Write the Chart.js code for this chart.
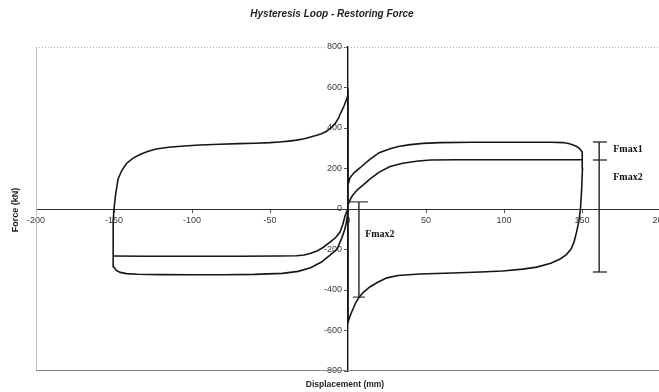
<!DOCTYPE html>
<html>
<head>
<meta charset="utf-8">
<script src="https://cdn.jsdelivr.net/npm/chart.js@4.4.1/dist/chart.umd.min.js"></script>
<style>
  body { margin: 0; background: #fff; overflow: hidden; }
  #wrap { width: 700px; height: 392px; }
</style>
</head>
<body>
<div id="wrap"><canvas id="loopChart" width="700" height="392"></canvas></div>
<script>
// tick values
const dispTicks = [-200, -150, -100, -50, 0, 50, 100, 150, 200]
const forceTicks = [-800, -600, -400, -200, 0, 200, 400, 600, 800]

// outer loop (Fmax1) - lower left, upper left, drop at 0, lower right, upper right
const outerDisp = [
  0, -0.6, -2, -3.8, -7, -11.5, -17, -24, -32, -42, -60, -80, -100, -120, -135, -142, -146, -148.5, -150.2, -150.6, -150.6, -150.4, -150,
  -149, -147.4, -145, -142, -138, -133, -128, -123, -115, -105, -95, -82, -70, -60, -50, -44, -38, -33, -28, -24, -20, -17, -14, -12, -10, -8, -6, -5, -4, -2.5, -1.5, -0.5, 0,
  0, 1.5, 3.2, 5, 7, 10, 14, 19, 25, 32, 46, 67, 85, 99, 112, 121, 130, 136, 140, 143, 145, 146.5, 148, 149, 149.8, 150.3, 150.3, 150, 148.5, 146, 142, 138, 130, 120, 100, 80, 59, 48, 40, 33, 27, 20, 14, 8, 4, 1.3, 0, 0
]
const outerForce = [
  0, -49, -99, -140, -198, -228, -262, -290, -308, -318, -323, -325, -325, -324, -322, -319, -313, -303, -285, -250, -150, -60, 0,
  70, 148, 190, 225, 250, 270, 285, 296, 305, 311, 316, 320, 323, 325, 328, 331, 335, 340, 347, 356, 364, 372, 383, 395, 408, 425, 450, 469, 485, 510, 530, 550, 568,
  -560, -525, -494, -462, -437, -410, -385, -362, -340, -328, -321, -316, -311, -306, -297, -287, -268, -247, -225, -198, -160, -114, -60, 0, 100, 200, 260, 281, 298, 311, 322, 328, 330, 330, 330, 330, 328, 324, 318, 310, 298, 278, 245, 205, 180, 155, 120, 0
]

// inner loop (Fmax2) branches
const innerLowDisp = [0, -1, -1.9, -3.3, -5.1, -8, -11.5, -16, -20, -24.4, -28, -33, -45, -70, -100, -130, -150.6]
const innerLowForce = [0, -15, -35, -75, -114, -142, -163, -190, -208, -220, -227, -231, -232, -233, -233, -233, -232]
const innerUpDisp = [0, 1.3, 3, 6, 9.6, 14, 20, 27, 35, 45, 53, 70, 100, 130, 150.3]
const innerUpForce = [20, 45, 68, 95, 118, 148, 182, 210, 226, 237, 242, 243, 243, 243, 243]

// Fmax marker bars
const barRightDisp = 161
const barRightForce = [331, -311]
const capRightForce = [331, 242, -311]
const capRightSpan = [157, 166]
const barZeroDisp = 7
const barZeroForce = [35, -435]
const capZeroForce = [35, -435]
const capZeroSpans = [[1.3, 12.8], [3.2, 10.9]]

const fmaxLabels = ['Fmax1', 'Fmax2', 'Fmax2']
const fmaxLabelDisp = [170, 170, 11]
const fmaxLabelForce = [292, 158, -124]

const toPoints = (xs, ys) => xs.map((x, i) => ({ x: x, y: ys[i] }))

const capPoints = []
capRightForce.forEach(f => {
  capPoints.push({ x: capRightSpan[0], y: f }, { x: capRightSpan[1], y: f }, { x: capRightSpan[1], y: null })
})
capZeroForce.forEach((f, i) => {
  capPoints.push({ x: capZeroSpans[i][0], y: f }, { x: capZeroSpans[i][1], y: f }, { x: capZeroSpans[i][1], y: null })
})

const curveStyle = { showLine: true, pointRadius: 0, borderColor: '#161616', borderWidth: 1.6, tension: 0, fill: false }
const barStyle = { showLine: true, pointRadius: 0, borderColor: '#222', borderWidth: 1.4, tension: 0, fill: false, spanGaps: false }

// frame + texts
const decor = {
  id: 'decor',
  beforeDraw(chart) {
    // y labels of a centred axis get no padding, push them off the line
    chart.scales.y.getLabelItems().forEach(item => {
      if (!item._shifted) {
        item.options.translation[0] -= 6
        item._shifted = true
      }
    })
  },
  beforeDatasetsDraw(chart) {
    const { ctx, chartArea: a } = chart
    ctx.save()
    ctx.strokeStyle = '#bdbdbd'
    ctx.lineWidth = 1
    ctx.beginPath()
    ctx.moveTo(a.left + 0.5, a.top)
    ctx.lineTo(a.left + 0.5, a.bottom)
    ctx.stroke()
    ctx.strokeStyle = '#8a8a8a'
    ctx.beginPath()
    ctx.moveTo(a.left, a.bottom - 0.5)
    ctx.lineTo(a.right, a.bottom - 0.5)
    ctx.stroke()
    ctx.strokeStyle = '#b0b0b0'
    ctx.setLineDash([1, 2])
    ctx.beginPath()
    ctx.moveTo(a.left, a.top + 0.5)
    ctx.lineTo(a.right, a.top + 0.5)
    ctx.stroke()
    ctx.restore()
  },
  afterDraw(chart) {
    const { ctx } = chart
    const xs = chart.scales.x
    const ys = chart.scales.y
    ctx.save()
    ctx.fillStyle = '#1e1e1e'
    ctx.textAlign = 'center'
    ctx.textBaseline = 'middle'
    ctx.font = 'italic bold 10px "Liberation Sans", Arial, sans-serif'
    ctx.fillText('Hysteresis Loop - Restoring Force', 332, 14)
    ctx.font = 'bold 8.5px "Liberation Sans", Arial, sans-serif'
    ctx.fillText('Displacement (mm)', 345, 385)
    ctx.translate(16, 210)
    ctx.rotate(-Math.PI / 2)
    ctx.font = 'bold 9px "Liberation Sans", Arial, sans-serif'
    ctx.fillText('Force (kN)', 0, 0)
    ctx.restore()

    ctx.save()
    ctx.fillStyle = '#111'
    ctx.textAlign = 'left'
    ctx.textBaseline = 'middle'
    ctx.font = 'bold 10px "Liberation Serif", "Times New Roman", serif'
    fmaxLabels.forEach((t, i) => {
      ctx.fillText(t, xs.getPixelForValue(fmaxLabelDisp[i]), ys.getPixelForValue(fmaxLabelForce[i]))
    })
    ctx.restore()
  }
}

const ctx = document.getElementById('loopChart').getContext('2d')
const loopChart = new Chart(ctx, {
  type: 'scatter',
  data: {
    datasets: [
      { ...curveStyle, data: toPoints(outerDisp, outerForce) },
      { ...curveStyle, data: toPoints(innerLowDisp, innerLowForce) },
      { ...curveStyle, data: toPoints(innerUpDisp, innerUpForce) },
      { ...barStyle, data: toPoints([barRightDisp, barRightDisp], barRightForce) },
      { ...barStyle, data: toPoints([barZeroDisp, barZeroDisp], barZeroForce) },
      { ...barStyle, borderColor: '#444', data: capPoints }
    ]
  },
  options: {
    responsive: false,
    devicePixelRatio: 1,
    animation: false,
    layout: { padding: { left: 36, top: 47, right: 40, bottom: 21 } },
    plugins: {
      legend: { display: false },
      tooltip: { enabled: false },
      title: { display: false }
    },
    scales: {
      x: {
        type: 'linear',
        min: -200,
        max: 200,
        position: { y: 0 },
        afterBuildTicks: s => { s.ticks = dispTicks.map(v => ({ value: v })) },
        ticks: { color: '#3a3a3a', font: { size: 9, family: '"Liberation Sans", Arial, sans-serif' }, padding: 3, maxRotation: 0 },
        grid: { drawOnChartArea: false, tickLength: 3, color: '#555' },
        border: { color: '#333', width: 1 }
      },
      y: {
        type: 'linear',
        min: -800,
        max: 800,
        position: { x: 0 },
        afterBuildTicks: s => { s.ticks = forceTicks.map(v => ({ value: v })) },
        ticks: { color: '#3a3a3a', font: { size: 9, family: '"Liberation Sans", Arial, sans-serif' }, padding: 3 },
        grid: { drawOnChartArea: false, tickLength: 3, color: '#555' },
        border: { color: '#111', width: 1.4 }
      }
    }
  },
  plugins: [decor]
})
</script>
</body>
</html>
